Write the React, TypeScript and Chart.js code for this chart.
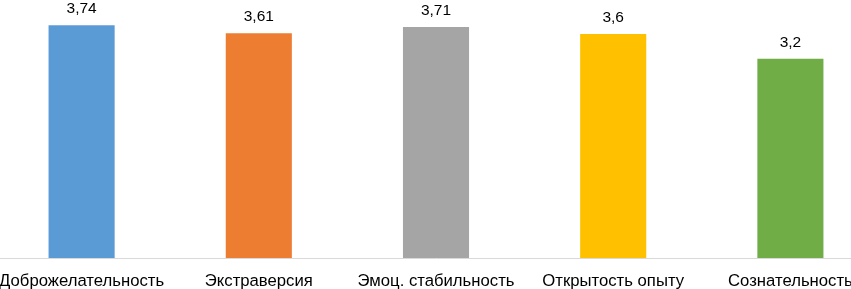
import React, { useEffect, useRef } from "react";
import { Chart, registerables } from "chart.js";

Chart.register(...registerables);

const categories = ["Доброжелательность", "Экстраверсия", "Эмоц. стабильность", "Открытость опыту", "Сознательность"];
const values = [3.74, 3.61, 3.71, 3.6, 3.2];
const valueLabels = ["3,74", "3,61", "3,71", "3,6", "3,2"];
const colors = ["#5B9BD5", "#ED7D31", "#A5A5A5", "#FFC000", "#70AD47"];

const FONT = "'Liberation Sans', Arial, sans-serif";

const valueLabelPlugin = {
  id: "valueLabels",
  afterDatasetsDraw(chart: any) {
    const ctx = chart.ctx;
    const meta = chart.getDatasetMeta(0);
    ctx.save();
    ctx.fillStyle = "#000000";
    ctx.font = `15.5px ${FONT}`;
    ctx.textAlign = "center";
    ctx.textBaseline = "alphabetic";
    meta.data.forEach((bar: any, i: number) => {
      ctx.fillText(valueLabels[i], bar.x, bar.y - 12);
    });
    ctx.restore();
  },
};

export default function App() {
  const ref = useRef<HTMLCanvasElement>(null);
  useEffect(() => {
    if (!ref.current) return;
    const chart = new Chart(ref.current, {
      type: "bar",
      data: {
        labels: categories,
        datasets: [
          {
            data: values,
            backgroundColor: colors,
            borderWidth: 0,
            categoryPercentage: 1,
            barPercentage: 0.373,
          },
        ],
      },
      options: {
        animation: false,
        responsive: false,
        maintainAspectRatio: false,
        layout: { padding: { top: 9, left: 0, right: 0, bottom: 0 } },
        plugins: { legend: { display: false }, tooltip: { enabled: false } },
        scales: {
          x: {
            grid: { display: false, drawTicks: false },
            border: { display: true, color: "#D9D9D9", width: 1 },
            ticks: { color: "#000000", font: { family: FONT, size: 16.7 }, padding: 13, maxRotation: 0, autoSkip: false },
            afterFit: (scale: any) => {
              scale.height = 31;
              scale.paddingLeft = 0;
              scale.paddingRight = 0;
            },
          },
          y: { display: false, min: 0, max: 4 },
        },
      },
      plugins: [valueLabelPlugin],
    });
    return () => chart.destroy();
  }, []);
  return (
    <div style={{ position: "fixed", left: 0, top: 0, width: 851, height: 289, overflow: "hidden", background: "#fff" }}>
      <canvas ref={ref} width={886} height={289} style={{ position: "absolute", left: -7, top: 0, width: 886, height: 289 }} />
    </div>
  );
}
